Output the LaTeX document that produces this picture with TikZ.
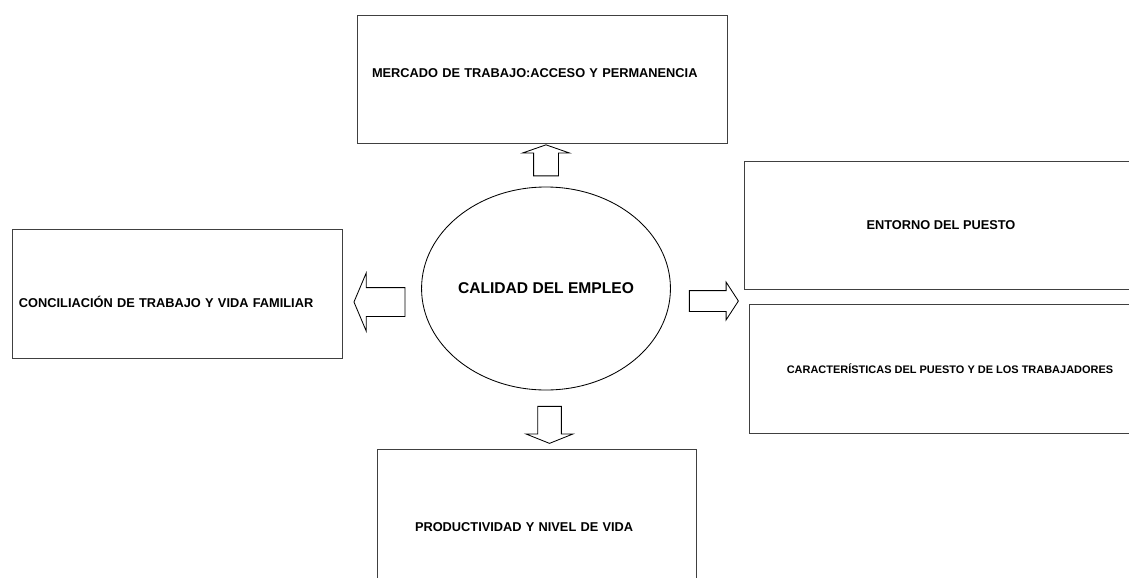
\documentclass[tikz,border=0pt]{standalone}
\usepackage{fontspec}
\setmainfont{Liberation Sans}
\usetikzlibrary{positioning,shapes.geometric,shapes.arrows}

\begin{document}
\begin{tikzpicture}[x=0.25mm, y=-0.25mm,
    box/.style={draw=black!75, line width=0.6pt, inner sep=0pt, outer sep=0pt,
      minimum height=32mm, font=\fontsize{9.1}{11}\selectfont\bfseries},
    leftbox/.style={box, align=left},
    hub/.style={draw, ellipse, line width=0.6pt, inner sep=0pt,
      minimum width=60.5mm, minimum height=50.75mm,
      font=\fontsize{11.1}{13}\selectfont\bfseries},
    blockarr/.style={draw, single arrow, line width=0.6pt, inner xsep=0pt, outer sep=0pt,
      single arrow head indent=0pt},
    vblockarr/.style={blockarr, inner ysep=0pt},
  ]
  \useasboundingbox (0,0) rectangle (1129,577);
  \clip (0,0) rectangle (1129,577);
  % elipse central
  \node[hub] (calidad) at (546,288.5) {CALIDAD DEL EMPLEO};
  % cajas alrededor
  \node[leftbox, minimum width=92.5mm, text width=85mm, text height=0pt, text depth=0.7mm]
    (mercado) at (542,79) {MERCADO DE TRABAJO:ACCESO Y PERMANENCIA};
  \node[leftbox, minimum width=82.5mm, minimum height=32.25mm, text width=79mm, text height=7.05mm, text depth=0pt]
    (concilia) at (177,293.5) {CONCILIACIÓN DE TRABAJO Y VIDA FAMILIAR};
  \node[box, minimum width=98.5mm] (entorno) at (941,225) {ENTORNO DEL PUESTO};
  \node[box, minimum width=100.5mm, minimum height=32.25mm, font=\fontsize{7.8}{9}\selectfont\bfseries]
    (caract) at (950,368.5) {CARACTERÍSTICAS DEL PUESTO Y DE LOS TRABAJADORES};
  \node[leftbox, minimum width=79.75mm, minimum height=34mm, text width=60.75mm, text height=7.3mm, text depth=0pt]
    (producti) at (536.5,517) {PRODUCTIVIDAD Y NIVEL DE VIDA};
  % flechas de bloque
  \node[vblockarr, shape border rotate=90, minimum height=7.75mm, inner xsep=3mm,
    single arrow head extend=2.75mm, single arrow tip angle=141.6] (arrup) at (546,162.5) {};
  \node[blockarr, shape border rotate=180, minimum height=12.75mm, inner ysep=3.5mm,
    single arrow head extend=3.625mm, single arrow tip angle=134.2] (arrleft) at (382.5,302) {};
  \node[blockarr, minimum height=12.25mm, inner ysep=2.5mm,
    single arrow head extend=2.125mm, single arrow tip angle=114] (arrright) at (710.5,301) {};
  \node[vblockarr, shape border rotate=270, minimum height=9.25mm, inner xsep=2.85mm,
    single arrow head extend=2.875mm, single arrow tip angle=136.4] (arrdown) at (549.5,422.5) {};
\end{tikzpicture}
\end{document}
